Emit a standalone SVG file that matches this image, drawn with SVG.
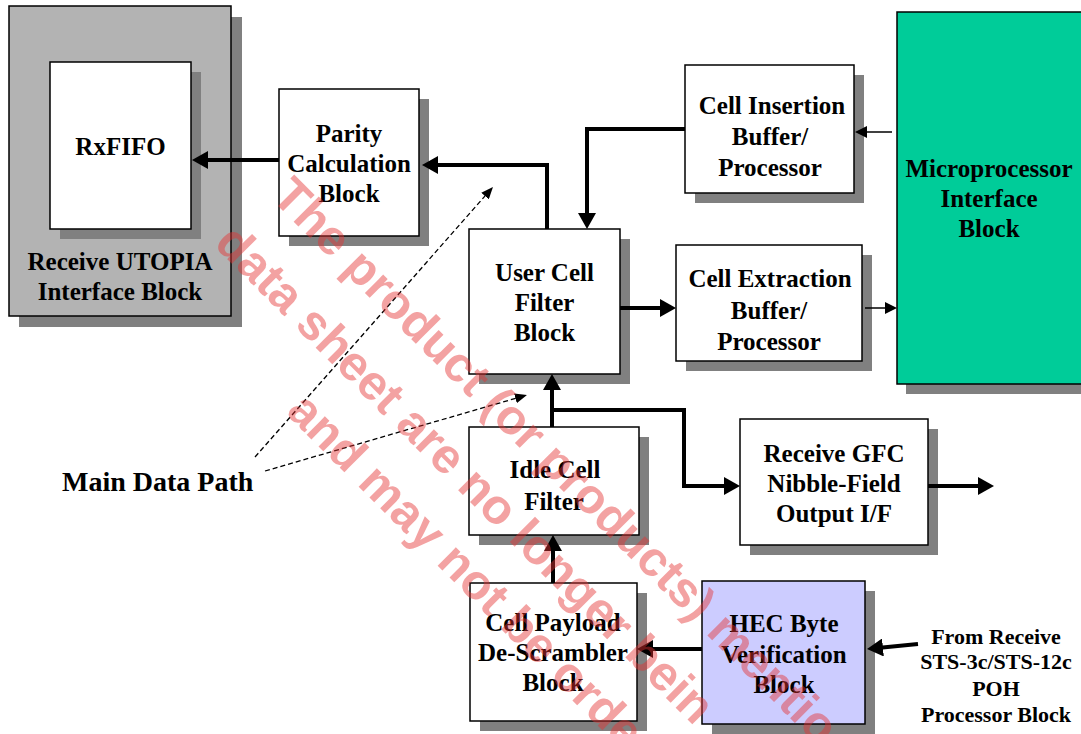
<svg xmlns="http://www.w3.org/2000/svg" width="1081" height="734" viewBox="0 0 1081 734">
<defs>
<style>
.sh{fill:#808080}
.bx{fill:#fff;stroke:#000;stroke-width:1.5}
.t{font-family:"Liberation Serif","Times New Roman",serif;font-weight:bold;font-size:25px;fill:#000;text-anchor:middle}
.c{fill:none;stroke:#000;stroke-width:4;marker-end:url(#ah)}
.cs{fill:none;stroke:#000;stroke-width:1.5;marker-end:url(#ahs)}
.cd{fill:none;stroke:#000;stroke-width:1.3;stroke-dasharray:5 3;marker-end:url(#ahd)}
.wm{font-family:"Liberation Sans",Arial,sans-serif;font-weight:bold;font-size:49px;fill:#E63232;opacity:0.45}
</style>
<marker id="ah" markerUnits="userSpaceOnUse" markerWidth="16" markerHeight="18" refX="8" refY="9" orient="auto"><path d="M0,0 L16,9 L0,18 z" fill="#000"/></marker>
<marker id="ahs" markerUnits="userSpaceOnUse" markerWidth="12" markerHeight="12" refX="6" refY="6" orient="auto"><path d="M0,0 L12,6 L0,12 z" fill="#000"/></marker>
<marker id="ahd" markerUnits="userSpaceOnUse" markerWidth="12" markerHeight="10" refX="6" refY="5" orient="auto"><path d="M0,0 L12,5 L0,10 z" fill="#000"/></marker>
</defs>
<rect width="1081" height="734" fill="#fff"/>

<g id="utopia">
<rect class="sh" x="19" y="17" width="223" height="310"/>
<rect x="9" y="6" width="222" height="310" fill="#B3B3B3" stroke="#000" stroke-width="1.5"/>
<text class="t" x="120" y="270">Receive UTOPIA</text>
<text class="t" x="120" y="300">Interface Block</text>
</g>
<g id="rxfifo">
<rect class="sh" x="60" y="72" width="141" height="167"/>
<rect class="bx" x="50" y="62" width="141" height="167"/>
<text class="t" x="120.5" y="155">RxFIFO</text>
</g>
<g id="parity">
<rect class="sh" x="289" y="99" width="140" height="147"/>
<rect class="bx" x="279" y="89" width="140" height="147"/>
<text class="t" x="349" y="142">Parity</text>
<text class="t" x="349" y="172">Calculation</text>
<text class="t" x="349" y="202">Block</text>
</g>
<g id="usercell">
<rect class="sh" x="479" y="239" width="151" height="145"/>
<rect class="bx" x="469" y="229" width="151" height="145"/>
<text class="t" x="544.5" y="281">User Cell</text>
<text class="t" x="544.5" y="311">Filter</text>
<text class="t" x="544.5" y="341">Block</text>
</g>
<g id="cellins">
<rect class="sh" x="695" y="75" width="169" height="128"/>
<rect class="bx" x="685" y="65" width="169" height="128"/>
<text class="t" x="772" y="114">Cell Insertion</text>
<text class="t" x="770" y="145">Buffer/</text>
<text class="t" x="770" y="176">Processor</text>
</g>
<g id="cellext">
<rect class="sh" x="686" y="255" width="186" height="116"/>
<rect class="bx" x="676" y="245" width="186" height="116"/>
<text class="t" x="770" y="287">Cell Extraction</text>
<text class="t" x="769" y="319">Buffer/</text>
<text class="t" x="769" y="350">Processor</text>
</g>
<g id="micro">
<rect class="sh" x="906" y="22" width="186" height="372"/>
<rect x="897" y="12" width="186" height="372" fill="#00CC99" stroke="#000" stroke-width="1.5"/>
<text class="t" x="989" y="177">Microprocessor</text>
<text class="t" x="989" y="207">Interface</text>
<text class="t" x="989" y="237">Block</text>
</g>
<g id="idle">
<rect class="sh" x="479" y="437" width="170" height="108"/>
<rect class="bx" x="469" y="427" width="170" height="108"/>
<text class="t" x="555" y="478">Idle Cell</text>
<text class="t" x="554" y="510">Filter</text>
</g>
<g id="payload">
<rect class="sh" x="480" y="593" width="167" height="138"/>
<rect class="bx" x="470" y="583" width="167" height="138"/>
<text class="t" x="553" y="631">Cell Payload</text>
<text class="t" x="553" y="661">De-Scrambler</text>
<text class="t" x="553" y="691">Block</text>
</g>
<g id="hec">
<rect class="sh" x="712" y="591" width="163" height="143"/>
<rect x="702" y="581" width="163" height="143" fill="#CCCCFF" stroke="#000" stroke-width="1.5"/>
<text class="t" x="784" y="632">HEC Byte</text>
<text class="t" x="784" y="663">Verification</text>
<text class="t" x="784" y="693">Block</text>
</g>
<g id="gfc">
<rect class="sh" x="750" y="429" width="188" height="126"/>
<rect class="bx" x="740" y="419" width="188" height="126"/>
<text class="t" x="834" y="462">Receive GFC</text>
<text class="t" x="834" y="492">Nibble-Field</text>
<text class="t" x="834" y="522">Output I/F</text>
</g>
<g id="from">
<text class="t" style="font-size:22px" x="996" y="644">From Receive</text>
<text class="t" style="font-size:22px" x="996" y="669">STS-3c/STS-12c</text>
<text class="t" style="font-size:22px" x="996" y="696">POH</text>
<text class="t" style="font-size:22px" x="996" y="722">Processor Block</text>
</g>
<g id="mainpath">
<text class="t" style="font-size:28px;text-anchor:start" x="62" y="491">Main Data Path</text>
</g>

<g id="connectors">
<path class="c" d="M279,160 H200"/>
<path class="c" d="M547,229 V165 H430"/>
<path class="c" d="M685,129 H587 V221"/>
<path class="c" d="M620,308 H668"/>
<path class="cs" d="M892,132 H861"/>
<path class="cs" d="M865,308 H891"/>
<path class="c" d="M552,427 V382"/>
<path class="c" d="M552,410 H684 V486 H732"/>
<path class="c" d="M928,486 H986"/>
<path class="c" d="M553,583 V543"/>
<path class="c" d="M702,649 H645"/>
<path class="c" d="M918,644 L875,648.2"/>
<path class="cd" d="M255,457 L489,191.5"/>
<path class="cd" d="M265,471 L521.2,396.7"/>
</g>

<g id="watermark">
<text class="wm" transform="translate(270,198) rotate(45)">The product (or products) mentio</text>
<text class="wm" transform="translate(213,245) rotate(45)">data sheet are no longer bein</text>
<text class="wm" transform="translate(285,413) rotate(45)">and may not be orde</text>
</g>
</svg>
